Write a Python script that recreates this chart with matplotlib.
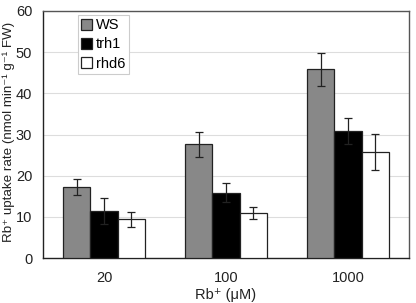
import matplotlib
matplotlib.use("Agg")
import matplotlib.pyplot as plt
import numpy as np

plt.rcParams['font.family'] = ['Liberation Sans', 'DejaVu Sans']

categories = ['20', '100', '1000']
series = ['WS', 'trh1', 'rhd6']
ws = [17.2, 27.6, 45.8]
ws_err = [1.9, 3.0, 3.9]
trh1 = [11.4, 15.9, 30.8]
trh1_err = [3.2, 2.3, 3.1]
rhd6 = [9.4, 11.0, 25.8]
rhd6_err = [1.8, 1.5, 4.4]
yticks = [0, 10, 20, 30, 40, 50, 60]

values = [ws, trh1, rhd6]
errors = [ws_err, trh1_err, rhd6_err]
colors = ['#888888', '#000000', '#ffffff']

W, H = 416, 303
fig = plt.figure(figsize=(W / 100, H / 100), dpi=100)
ax = fig.add_axes([43/W, 45/H, 366/W, 247/H])

x = np.arange(len(categories))
w = 0.222
for i, (vals, errs, c) in enumerate(zip(values, errors, colors)):
    ax.bar(x + (i - 1) * w, vals, w, color=c, edgecolor='#222222', linewidth=0.9,
           yerr=errs, error_kw=dict(ecolor='#222222', elinewidth=0.9, capsize=3, capthick=0.9),
           label=series[i], zorder=3)

ax.set_xlim(-0.5, 2.5)
ax.set_ylim(0, 60)
ax.set_yticks(yticks)
ax.set_xticks(x)
ax.set_xticklabels(categories)
ax.yaxis.grid(True, color='#dddddd', linewidth=0.8, zorder=0)
ax.set_axisbelow(True)
ax.tick_params(axis='both', length=0, labelsize=10.5, colors='#222222')
ax.tick_params(axis='x', pad=9.5)
ax.tick_params(axis='y', pad=7.8)
for s in ['left', 'bottom']:
    ax.spines[s].set_color('#222222')
    ax.spines[s].set_linewidth(1.0)
for s in ['top', 'right']:
    ax.spines[s].set_color('#555555')
    ax.spines[s].set_linewidth(1.0)

fig.text(12.3/W, 1 - 131.5/H, 'Rb\u207a uptake rate (nmol min\u207b\u00b9 g\u207b\u00b9 FW)',
         rotation=90, ha='center', va='baseline', rotation_mode='anchor',
         fontsize=9.6, color='#222222')
fig.text(226/W, 1 - 298.5/H, 'Rb\u207a (\u03bcM)', ha='center', va='baseline',
         fontsize=10.5, color='#222222')

leg = ax.legend(loc='upper left', bbox_to_anchor=(0.095, 0.985), fontsize=10.5,
                frameon=True, fancybox=False, edgecolor='#cccccc', framealpha=1,
                handlelength=0.75, handleheight=0.75, handletextpad=0.25,
                borderpad=0.25, labelspacing=0.35, borderaxespad=0)
leg.get_frame().set_linewidth(0.8)

fig.savefig('out.png', dpi=100)
